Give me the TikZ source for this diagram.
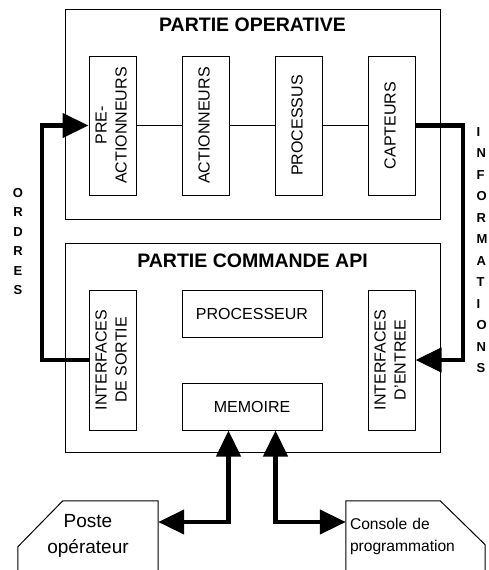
\documentclass[tikz,border=0pt]{standalone}
\usepackage{fontspec}
\usepackage{graphicx}
\setmainfont{Liberation Sans}
\usetikzlibrary{arrows.meta,calc}

\tikzset{
  thinline/.style={line width=1pt},
  part/.style={draw, thinline, inner sep=0pt},
  vbox/.style={part, minimum width=47pt, minimum height=139pt,
    font=\fontsize{16}{20}\selectfont},
  hbox/.style={part, minimum width=140pt, minimum height=47pt,
    font=\fontsize{16}{20}\selectfont},
  title/.style={font=\fontsize{19.5}{22}\selectfont\bfseries, inner sep=0pt},
  bus/.style={line width=4.3pt, line join=miter},
  tip/.style={-{Triangle[length=26pt,width=24pt]}},
  dtip/.style={{Triangle[length=26pt,width=24pt]}-{Triangle[length=26pt,width=24pt]}},
  vlabel/.style={font=\fontsize{13}{19.4}\selectfont\bfseries, inner sep=0pt},
}
\newcommand{\vstack}[1]{\rotatebox{90}{\begin{tabular}{@{}c@{}}#1\end{tabular}}}

\begin{document}
\begin{tikzpicture}[x=1pt,y=-1pt]
\useasboundingbox (0,0) rectangle (488,570);

% operative part
\node[part, minimum width=375pt, minimum height=210pt] (op) at (252.5,114) {};
\node[title] (optitle) at (252.5,25) {PARTIE OPERATIVE};
\node[vbox] (pre)  at (112.5,125.5) {\vstack{PRE-\\ACTIONNEURS}};
\node[vbox] (act)  at (205.5,125.5) {\vstack{ACTIONNEURS}};
\node[vbox] (proc) at (298.5,125.5) {\vstack{PROCESSUS}};
\node[vbox] (capt) at (391.5,125.5) {\vstack{CAPTEURS}};
\draw[thinline] (pre) -- (act);
\draw[thinline] (act) -- (proc);
\draw[thinline] (proc) -- (capt);

% control part
\node[part, minimum width=375pt, minimum height=209pt] (cmd) at (252.5,347.5) {};
\node[title] (cmdtitle) at (252.5,260.5) {PARTIE COMMANDE API};
\node[vbox, minimum height=140pt] (sortie) at (112.5,360) {\vstack{INTERFACES\\DE SORTIE}};
\node[vbox, minimum height=140pt] (entree) at (391.5,360) {\vstack{INTERFACES\\D'ENTREE}};
\node[hbox] (cpu) at (252,313.5) {PROCESSEUR};
\node[hbox] (mem) at (252,406.5) {MEMOIRE};

% orders and information loops
\coordinate (ol) at (42,0);
\coordinate (ir) at (463,0);
\draw[bus, tip] (sortie.west) -- (sortie.west -| ol) -- (pre.west -| ol) -- (pre.west);
\draw[bus, tip] (capt.east) -- (capt.east -| ir) -- (entree.east -| ir) -- (entree.east);

\node[vlabel, align=center] (ordres) at (18,241.5) {O\\R\\D\\R\\E\\S};
\node[vlabel, font=\fontsize{13}{21.5}\selectfont\bfseries, align=left, anchor=west]
  (infos) at (476.5,250) {I\\N\\F\\O\\R\\M\\A\\T\\I\\O\\N\\S};

% peripherals
\node[inner sep=0pt, minimum width=140pt, minimum height=70pt, align=center,
  font=\fontsize{19}{26}\selectfont] (poste) at (88,536) {Poste\\op\'erateur};
\draw[thinline] ([xshift=45pt]poste.north west) -- (poste.north east)
  -- (poste.south east) -- (poste.south west)
  -- ([yshift=-46pt]poste.north west) -- cycle;

\node[inner xsep=4pt, inner ysep=0pt, minimum width=139pt, minimum height=70pt,
  text width=131pt, align=left, font=\fontsize{15.6}{22}\selectfont] (console)
  at (415.5,536) {Console de\\programmation};
\draw[thinline] (console.north west) -- ([xshift=-45pt]console.north east)
  -- ([yshift=-44pt]console.north east) -- (console.south east)
  -- (console.south west) -- cycle;

\coordinate (m1) at ($(mem.south west)!1/3!(mem.south east)$);
\coordinate (m2) at ($(mem.south west)!2/3!(mem.south east)$);
\draw[bus, dtip] (m1) |- ([yshift=14pt]poste.east);
\draw[bus, dtip] (m2) |- ([yshift=14pt]console.west);
\end{tikzpicture}
\end{document}
